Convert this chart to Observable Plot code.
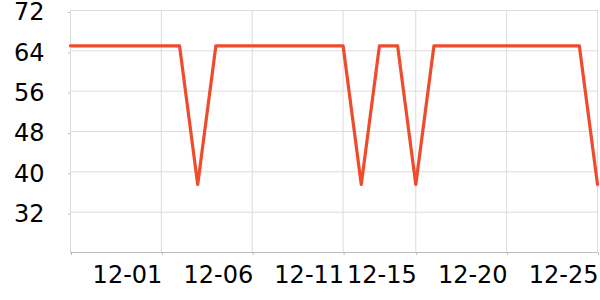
<!DOCTYPE html>
<html>
<head>
<meta charset="utf-8">
<script src="https://cdn.jsdelivr.net/npm/d3@7"></script>
<script src="https://cdn.jsdelivr.net/npm/@observablehq/plot@0.6"></script>
<style>
  html, body { margin: 0; padding: 0; background: #fff; }
  #chart svg { display: block; }
</style>
</head>
<body>
<div id="chart"></div>
<script>
const dates = ["2023-11-26","2023-11-27","2023-11-28","2023-11-29","2023-11-30",
  "2023-12-01","2023-12-02","2023-12-03","2023-12-04","2023-12-05",
  "2023-12-06","2023-12-07","2023-12-08","2023-12-09","2023-12-10",
  "2023-12-11","2023-12-12","2023-12-13","2023-12-14","2023-12-15",
  "2023-12-16","2023-12-17","2023-12-18","2023-12-19","2023-12-20",
  "2023-12-21","2023-12-22","2023-12-23","2023-12-24","2023-12-25"];
const values = [65,65,65,65,65, 65,65,37.5,65,65, 65,65,65,65,65,
  65,37.5,65,65,37.5, 65,65,65,65,65, 65,65,65,65,37.5];
const xTicks = ["2023-12-01","2023-12-06","2023-12-11","2023-12-15","2023-12-20","2023-12-25"];
const yTicks = [32,40,48,56,64,72];

const data = dates.map((d, i) => ({date: new Date(d + "T00:00:00Z"), value: values[i]}));
const xTickDates = xTicks.map(d => new Date(d + "T00:00:00Z"));
const fmt = d3.utcFormat("%m-%d");

const chart = Plot.plot({
  width: 600,
  height: 300,
  marginLeft: 70,
  marginRight: 3,
  marginTop: 10,
  marginBottom: 48,
  style: {fontFamily: "DejaVu Sans", fontSize: "24px", color: "#000", background: "#fff"},
  x: {type: "utc", domain: [data[0].date, data[data.length - 1].date]},
  y: {domain: [24, 72]},
  marks: [
    Plot.gridY(yTicks, {stroke: "#dcdcdc", strokeOpacity: 1}),
    Plot.gridX([data[0].date, ...xTickDates], {stroke: "#dcdcdc", strokeOpacity: 1}),
    Plot.ruleY([24], {stroke: "#bdbdbd"}),
    Plot.axisY(yTicks, {tickSize: 2, tickPadding: 24, stroke: "#bbb", fill: "#000", label: null, dy: 2}),
    Plot.axisX([data[0].date, ...xTickDates], {
      tickSize: 3, tickPadding: 10, stroke: "#bbb", fill: "#000", label: null,
      textAnchor: "end", dx: 1,
      tickFormat: (d, i) => i === 0 ? "" : fmt(d)
    }),
    Plot.line(data, {x: "date", y: "value", stroke: "#ef4b2d", strokeWidth: 3.2})
  ]
});
document.getElementById("chart").appendChild(chart);
</script>
</body>
</html>
